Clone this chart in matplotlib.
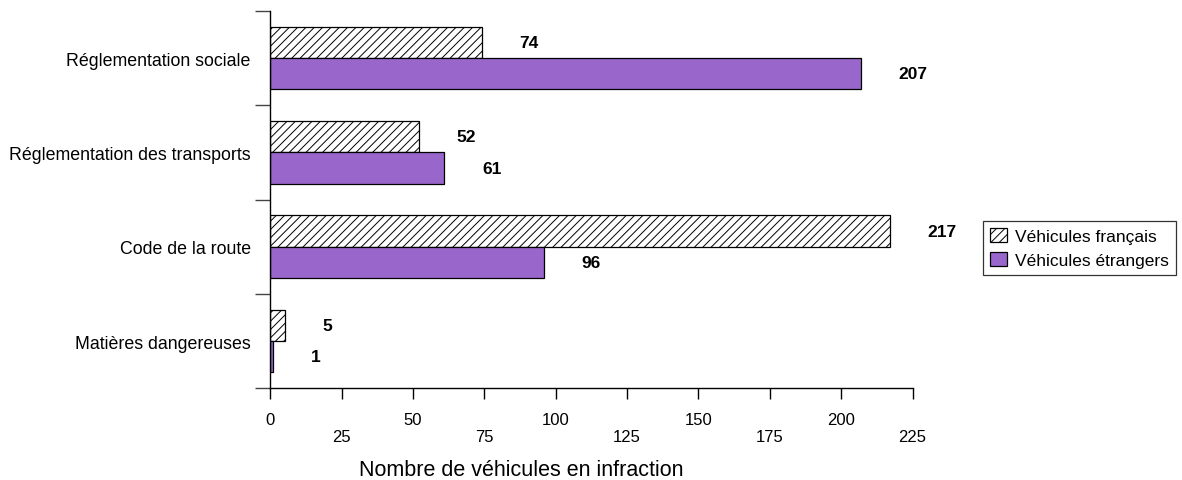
import matplotlib
matplotlib.use("Agg")
import matplotlib.pyplot as plt
import numpy as np

# ---- data ----
categories = ["Réglementation sociale", "Réglementation des transports",
              "Code de la route", "Matières dangereuses"]
francais = [74, 52, 217, 5]
etrangers = [207, 61, 96, 1]
series_names = ["Véhicules français", "Véhicules étrangers"]
xticks = [0, 25, 50, 75, 100, 125, 150, 175, 200, 225]
xtick_labels = ["0", "\n25", "50", "\n75", "100", "\n125", "150", "\n175", "200", "\n225"]
xlabel = "Nombre de véhicules en infraction"

plt.rcParams['font.family'] = ['Liberation Sans', 'DejaVu Sans']
plt.rcParams['hatch.linewidth'] = 0.7

W, H = 1182, 481
fig = plt.figure(figsize=(W / 100, H / 100), dpi=100)
ax_left, ax_right, ax_top, ax_bot = 270.3, 912.5, 12.0, 389.3
ax = fig.add_axes([ax_left / W, 1 - ax_bot / H, (ax_right - ax_left) / W, (ax_bot - ax_top) / H])

purple = "#9966CC"
bh = 0.332
y = np.arange(len(categories))
b1 = ax.barh(y - bh / 2, francais, height=bh, color="white", edgecolor="black",
             hatch="////", linewidth=0.9, label=series_names[0])
b2 = ax.barh(y + bh / 2, etrangers, height=bh, color=purple, edgecolor="black",
             linewidth=0.9, label=series_names[1])

for bars, vals in ((b1, francais), (b2, etrangers)):
    for rect, v in zip(bars, vals):
        ax.annotate(str(v), xy=(v, rect.get_y() + rect.get_height() / 2),
                    xytext=(27, 0), textcoords="offset points",
                    ha="left", va="center", fontsize=12.5, fontweight="bold")

ax.set_xlim(0, 225)
ax.set_ylim(len(categories) - 0.5, -0.5)

for s in ("top", "right"):
    ax.spines[s].set_visible(False)
for s in ("left", "bottom"):
    ax.spines[s].set_linewidth(1.0)
    ax.spines[s].set_color("black")

ax.set_xticks(xticks)
ax.set_xticklabels(xtick_labels, fontsize=12, linespacing=1.2)
ax.tick_params(axis="x", direction="out", length=8, width=1, pad=9, colors="black")

ax.set_yticks(np.arange(len(categories) + 1) - 0.5)
ax.set_yticklabels([])
ax.tick_params(axis="y", which="major", direction="out", length=11, width=1, color="#444444")
ax.set_yticks(y, minor=True)
ax.set_yticklabels(categories, minor=True, fontsize=12.8)
ax.tick_params(axis="y", which="minor", length=0, pad=14)

ax.set_xlabel(xlabel, fontsize=15.5)
ax.xaxis.label.set_va("center")
ax.xaxis.set_label_coords((521 - ax_left) / (ax_right - ax_left), -(471 - ax_bot) / (ax_bot - ax_top))

leg = fig.legend(handles=[b1, b2], labels=series_names, loc="upper left",
                 bbox_to_anchor=(982.7 / W, 1 - 221.7 / H), bbox_transform=fig.transFigure,
                 fontsize=12.5, frameon=True, fancybox=False, borderaxespad=0,
                 borderpad=0.42, handlelength=1.0, handleheight=0.9,
                 handletextpad=0.45, labelspacing=0.45)
leg.get_frame().set_edgecolor("black")
leg.get_frame().set_linewidth(0.9)

fig.savefig("out.png", dpi=100)
